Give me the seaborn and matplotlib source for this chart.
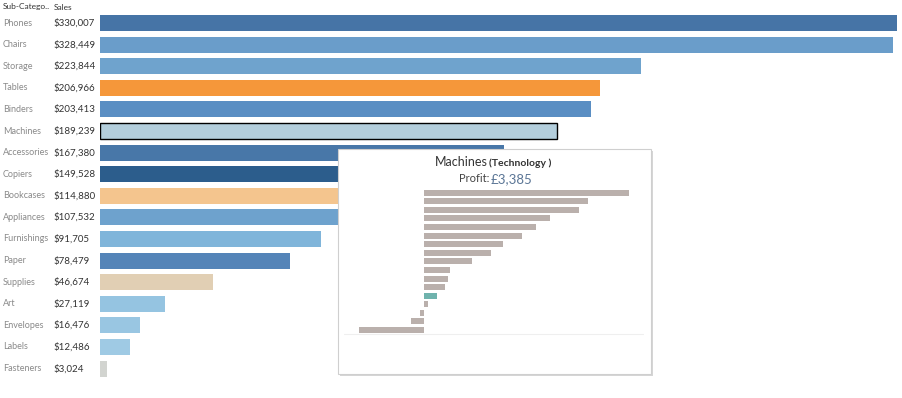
import seaborn as sns
import matplotlib.pyplot as plt
import pandas as pd
from matplotlib.patches import Rectangle

# main view: sales by sub-category
sub_categories = ['Phones', 'Chairs', 'Storage', 'Tables', 'Binders', 'Machines',
                  'Accessories', 'Copiers', 'Bookcases', 'Appliances', 'Furnishings',
                  'Paper', 'Supplies', 'Art', 'Envelopes', 'Labels', 'Fasteners']
sales = [330007, 328449, 223844, 206966, 203413, 189239, 167380, 149528, 114880,
         107532, 91705, 78479, 46674, 27119, 16476, 12486, 3024]
bar_colors = ['#4674a6', '#6a9dca', '#6fa3cd', '#f5973a', '#5a8ec3', '#b3cedc',
              '#4877a8', '#2c5d8c', '#f4c58e', '#6ea2cd', '#80b5da', '#5484b8',
              '#e1cfb4', '#95c4e1', '#99c6e2', '#9fcae4', '#d2d4d0']

# tooltip view: profit by sub-category
profit_cats = ['Copiers', 'Phones', 'Accessories', 'Paper', 'Binders', 'Chairs',
               'Storage', 'Appliances', 'Furnishings', 'Envelopes', 'Art', 'Labels',
               'Machines', 'Fasteners', 'Supplies', 'Bookcases', 'Tables']
profit = [55618, 44516, 41937, 34054, 30222, 26590, 21279, 18138, 13059, 6964,
          6528, 5546, 3385, 949, -1189, -3473, -17725]

selected = 'Machines'

sales_df = pd.DataFrame({'sub': sub_categories, 'sales': sales})
profit_df = pd.DataFrame({'sub': profit_cats, 'profit': profit})

sns.set_style('white')
plt.rcParams['font.family'] = ['Lato', 'DejaVu Sans']

W, H = 902, 398
fig = plt.figure(figsize=(W / 100, H / 100), dpi=100)


def px_axes(x0, y0, x1, y1, **kw):
    return fig.add_axes([x0 / W, 1 - y1 / H, (x1 - x0) / W, (y1 - y0) / H], **kw)


ax = px_axes(100, 12.2, 897, 379.4)
sns.barplot(data=sales_df, y='sub', x='sales', hue='sub', order=sub_categories,
            palette=dict(zip(sub_categories, bar_colors)), legend=False,
            width=0.74, orient='h', saturation=1, ax=ax)
ax.set_xlim(0, max(sales))
ax.set_ylim(len(sub_categories) - 0.5, -0.5)
for p in ax.patches:
    p.set_edgecolor('none')
    # highlight selected bar
    cy = p.get_y() + p.get_height() / 2
    if round(cy) == sub_categories.index(selected):
        p.set_edgecolor('black')
        p.set_linewidth(1.0)
ax.axis('off')

# row labels
for i, (name, val) in enumerate(zip(sub_categories, sales)):
    ax.text(-97 / 797, i, name, transform=ax.get_yaxis_transform(), ha='left',
            va='center', fontsize=6.5, color='#8a8a8a')
    ax.text(-47 / 797, i, f'${val:,}', transform=ax.get_yaxis_transform(), ha='left',
            va='center', fontsize=7, color='#333333')
fig.text(3 / W, 1 - 7 / H, 'Sub-Catego..', fontsize=6, color='#333333', va='center')
fig.text(54 / W, 1 - 7 / H, 'Sales', fontsize=6, color='#333333', va='center')

# tooltip box
box = px_axes(336, 147, 654, 377, zorder=5)
box.set_xlim(336, 654)
box.set_ylim(377, 147)
box.axis('off')
box.add_patch(Rectangle((340, 151), 313, 225, facecolor='#d6d6d6', edgecolor='none'))
box.add_patch(Rectangle((338, 149), 313, 225, facecolor='white', edgecolor='#cfcfcf',
                        linewidth=0.8))
box.text(435, 162, 'Machines', ha='left', va='center', fontsize=9, color='#333333')
box.text(489, 163, '(Technology )', ha='left', va='center', fontsize=7.5,
         color='#333333', fontweight='bold')
box.text(459, 179, 'Profit:', ha='left', va='center', fontsize=8, color='#444444')
box.text(491, 179, '£3,385', ha='left', va='center', fontsize=9.5, color='#5b7696')

inner = px_axes(359, 188.4, 629, 334.3, zorder=6)
sns.barplot(data=profit_df, y='sub', x='profit', hue='sub', order=profit_cats,
            palette={c: ('#6fb3ad' if c == selected else '#bab0ac') for c in profit_cats},
            legend=False, width=0.7, orient='h', saturation=1, ax=inner)
inner.set_xlim(min(profit), max(profit))
inner.set_ylim(len(profit_cats) - 0.5, -0.5)
for p in inner.patches:
    p.set_edgecolor('none')
inner.axis('off')
inner.plot([-15 / 270, 284 / 270], [0, 0], transform=inner.transAxes,
           color='#efefef', linewidth=0.8, clip_on=False)

fig.savefig('out.png', dpi=100, facecolor='white')
